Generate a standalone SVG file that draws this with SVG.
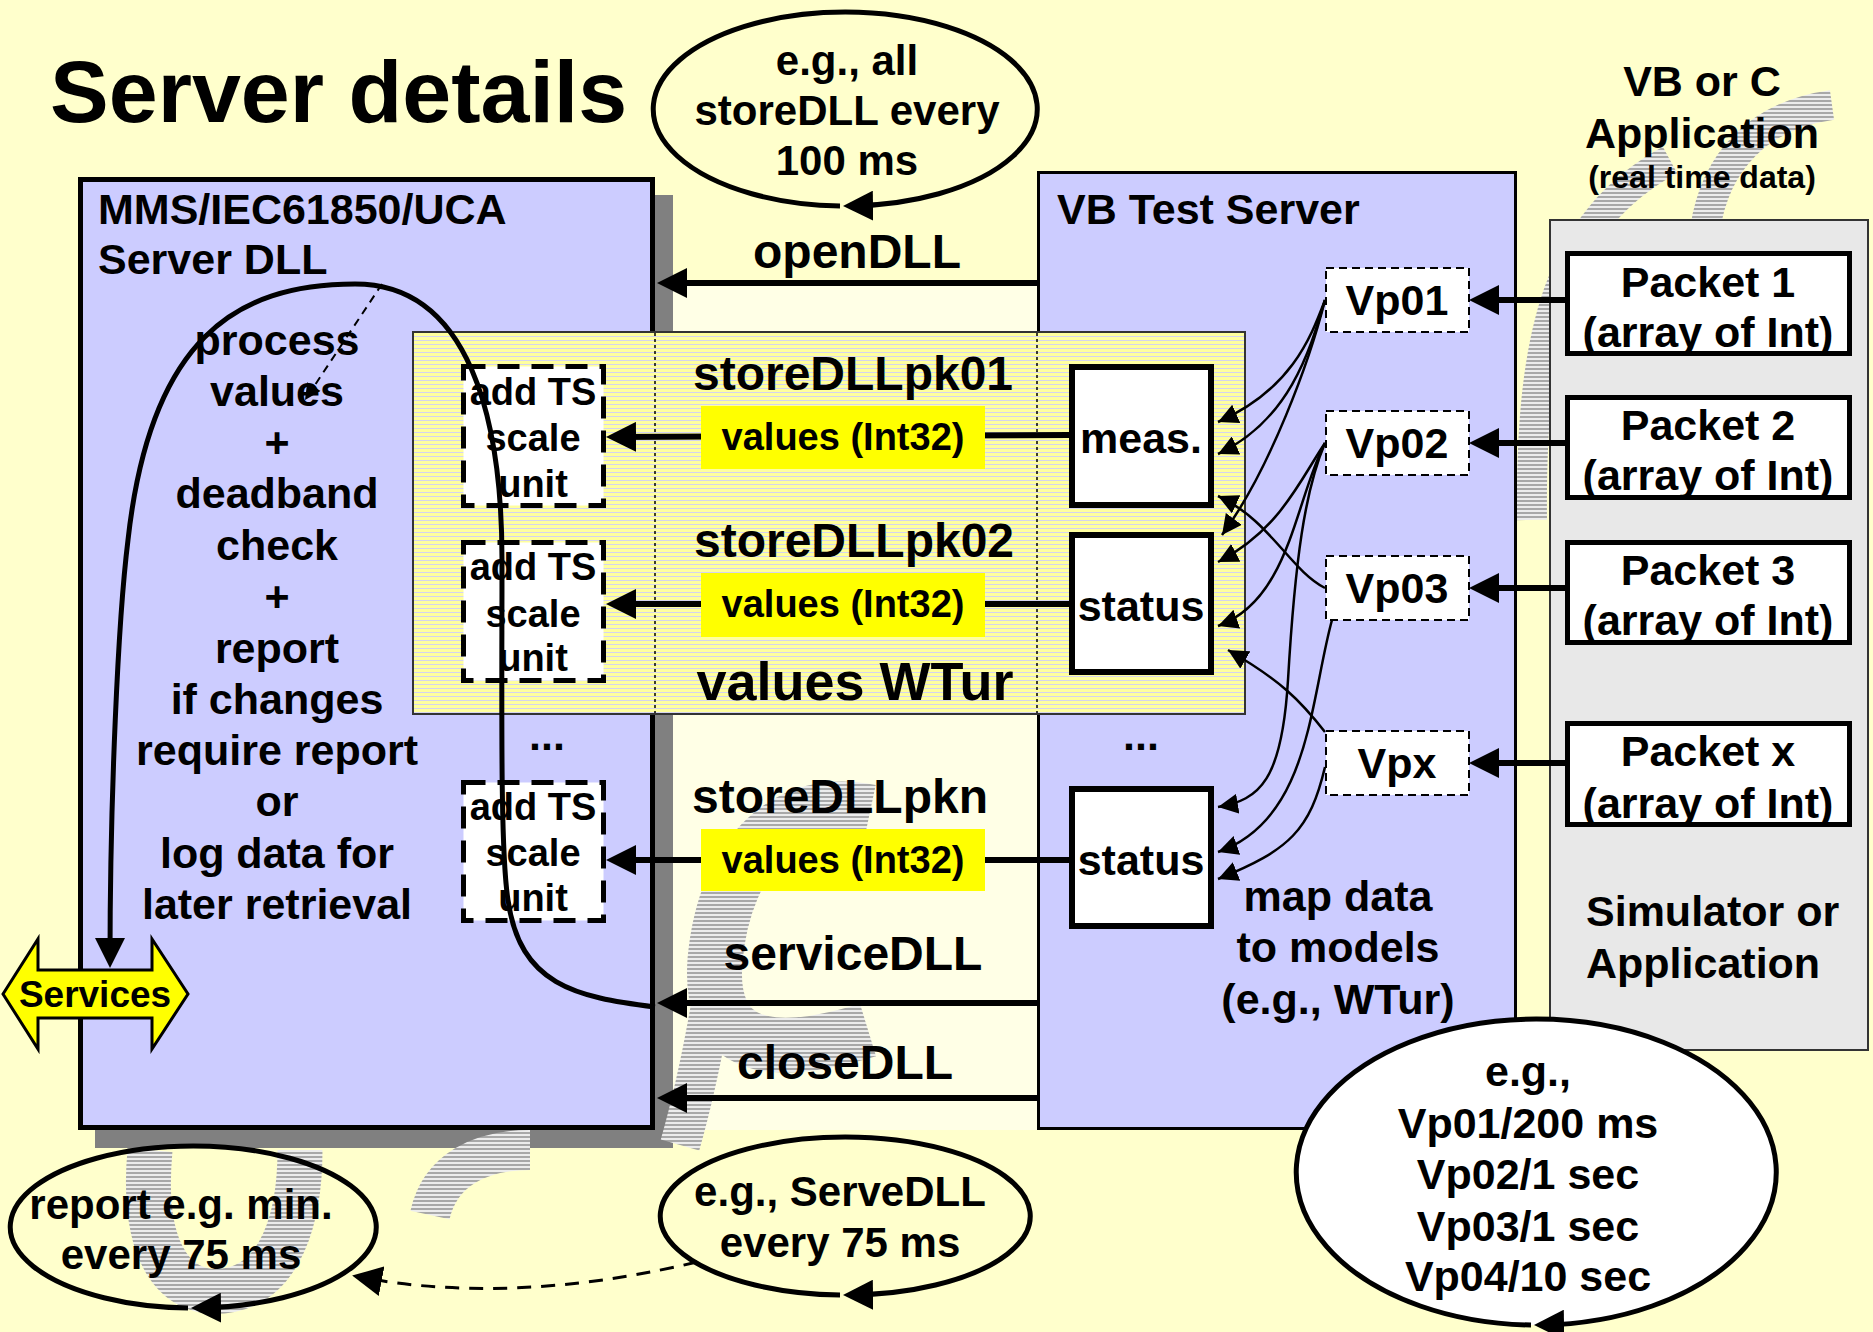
<svg xmlns="http://www.w3.org/2000/svg" width="1873" height="1332" viewBox="0 0 1873 1332">
<defs>
<style>
text { font-family: "Liberation Sans", Arial, sans-serif; font-weight: bold; fill: #000; }
.c { text-anchor: middle; }
.f32 { font-size: 32px; }
.f37 { font-size: 37px; }
.f38 { font-size: 38px; }
.f42 { font-size: 42px; }
.f43 { font-size: 43px; }
.f48 { font-size: 48px; }
.thick { stroke: #000; stroke-width: 6; fill: none; }
.thin { stroke: #000; stroke-width: 2.5; fill: none; }
.loop { stroke: #000; stroke-width: 5; fill: none; }
.ell { stroke: #000; stroke-width: 5; fill: none; }
.wm { fill: none; stroke: url(#gstripe); }
.tsbox { fill: #fff; stroke: #000; stroke-width: 5; stroke-dasharray: 22 12; }
.vpbox { fill: #fff; stroke: #000; stroke-width: 2; stroke-dasharray: 8 5; }
.wbox { fill: #fff; stroke: #000; stroke-width: 6; }
.pbox { fill: #fff; stroke: #000; stroke-width: 5; }
.ybox { fill: #FFFF00; }
</style>
<pattern id="ystripe" width="10" height="4" patternUnits="userSpaceOnUse">
<rect width="10" height="4" fill="#FFFF9E"/>
<rect y="0" width="10" height="1" fill="#D4D4F0"/>
</pattern>
<pattern id="gstripe" width="10" height="4" patternUnits="userSpaceOnUse">
<rect width="10" height="2" fill="#A8A8A8"/>
<rect y="2" width="10" height="2" fill="#ECECEC"/>
</pattern>
<marker id="big" viewBox="0 0 10 10" refX="7.5" refY="5" markerWidth="30" markerHeight="30" markerUnits="userSpaceOnUse" orient="auto">
<path d="M0,0 L10,5 L0,10 z" fill="#000"/>
</marker>
<marker id="small" viewBox="0 0 10 10" refX="10" refY="5" markerWidth="20" markerHeight="20" markerUnits="userSpaceOnUse" orient="auto">
<path d="M0,0 L10,5 L0,10 z" fill="#000"/>
</marker>
<marker id="dash" viewBox="0 0 10 10" refX="10" refY="5" markerWidth="18" markerHeight="16" markerUnits="userSpaceOnUse" orient="auto">
<path d="M0,0 L10,5 L0,10 z" fill="#000"/>
</marker>
</defs>

<rect width="1873" height="1332" fill="#FFFFCC"/>
<rect x="655" y="286" width="382" height="844" fill="#FFFFE6"/>

<g id="shadow">
<rect x="95" y="195" width="578" height="953" fill="#808080"/>
</g>

<g id="watermark">
<path class="wm" stroke-width="30" d="M1532 520 C1530 330 1560 220 1670 160"/>
<path class="wm" stroke-width="30" d="M1705 230 C1715 160 1760 115 1832 105"/>
<path class="wm" stroke-width="55" d="M870 812 C790 795 725 850 715 960 C708 1050 770 1060 868 1030"/>
<path class="wm" stroke-width="40" d="M712 1000 C700 1070 690 1110 680 1145"/>
<path class="wm" stroke-width="45" d="M150 1150 C140 1260 180 1300 230 1290 C280 1280 300 1220 300 1150"/>
<path class="wm" stroke-width="40" d="M430 1215 C440 1170 480 1150 530 1150"/>
</g>

<g id="title">
<text x="50" y="122" style="font-size:88px">Server details</text>
</g>

<g id="server-dll">
<rect x="80.5" y="179.5" width="572" height="948" fill="#CCCCFF" stroke="#000" stroke-width="5"/>
<text class="f43" x="98" y="224">MMS/IEC61850/UCA</text>
<text class="f43" x="98" y="274">Server DLL</text>
<g class="f43">
<text class="c" x="277" y="355">process</text>
<text class="c" x="277" y="406">values</text>
<text class="c" x="277" y="457">+</text>
<text class="c" x="277" y="508">deadband</text>
<text class="c" x="277" y="560">check</text>
<text class="c" x="277" y="611">+</text>
<text class="c" x="277" y="663">report</text>
<text class="c" x="277" y="714">if changes</text>
<text class="c" x="277" y="765">require report</text>
<text class="c" x="277" y="816">or</text>
<text class="c" x="277" y="868">log data for</text>
<text class="c" x="277" y="919">later retrieval</text>
</g>
<text class="c f43" x="547" y="750">...</text>
</g>

<g id="vb-test-server">
<rect x="1038.5" y="172.5" width="477" height="956" fill="#CCCCFF" stroke="#000" stroke-width="3"/>
<text class="f43" x="1057" y="224">VB Test Server</text>
<text class="c f43" x="1141" y="750">...</text>
<text class="c f43" x="1338" y="911">map data</text>
<text class="c f43" x="1338" y="962">to models</text>
<text class="c f43" x="1338" y="1014">(e.g., WTur)</text>
</g>

<g id="simulator">
<rect x="1550" y="220" width="318" height="830" fill="#E8E8E8" stroke="#333" stroke-width="2"/>
<text class="f43" x="1586" y="926">Simulator or</text>
<text class="f43" x="1586" y="978">Application</text>
</g>

<g id="app-label">
<text class="c f43" x="1702" y="96">VB or C</text>
<text class="c f43" x="1702" y="148">Application</text>
<text class="c f32" x="1702" y="188">(real time data)</text>
</g>

<g id="packet1"><rect class="pbox" x="1567.5" y="253.5" width="282" height="100"/>
<text class="c f43" x="1708" y="297">Packet 1</text><text class="c f43" x="1708" y="347">(array of Int)</text></g>
<g id="packet2"><rect class="pbox" x="1567.5" y="397.5" width="282" height="100"/>
<text class="c f43" x="1708" y="440">Packet 2</text><text class="c f43" x="1708" y="490">(array of Int)</text></g>
<g id="packet3"><rect class="pbox" x="1567.5" y="542.5" width="282" height="100"/>
<text class="c f43" x="1708" y="585">Packet 3</text><text class="c f43" x="1708" y="635">(array of Int)</text></g>
<g id="packetx"><rect class="pbox" x="1567.5" y="723.5" width="282" height="101"/>
<text class="c f43" x="1708" y="766">Packet x</text><text class="c f43" x="1708" y="818">(array of Int)</text></g>

<g id="values-wtur">
<rect x="413" y="332" width="832" height="382" fill="url(#ystripe)" stroke="#333" stroke-width="2"/>
<line x1="655" y1="333" x2="655" y2="713" stroke="#000" stroke-width="1.5" stroke-dasharray="3 3"/>
<line x1="1037" y1="333" x2="1037" y2="713" stroke="#000" stroke-width="1.5" stroke-dasharray="3 3"/>
<text class="c f48" x="853" y="390">storeDLLpk01</text>
<text class="c f48" x="854" y="557">storeDLLpk02</text>
<text class="c" x="855" y="700" style="font-size:54px">values WTur</text>
</g>

<text class="c f48" x="840" y="813">storeDLLpkn</text>
<text class="c f48" x="853" y="970">serviceDLL</text>
<text class="c f48" x="845" y="1079">closeDLL</text>
<text class="c f48" x="857" y="268">openDLL</text>

<g id="ts1"><rect class="tsbox" x="463.5" y="366.5" width="140" height="139"/>
<text class="c f38" x="533" y="405">add TS</text><text class="c f38" x="533" y="451">scale</text><text class="c f38" x="533" y="497">unit</text></g>
<g id="ts2"><rect class="tsbox" x="463.5" y="542.5" width="140" height="138"/>
<text class="c f38" x="533" y="580">add TS</text><text class="c f38" x="533" y="627">scale</text><text class="c f38" x="533" y="671">unit</text></g>
<g id="ts3"><rect class="tsbox" x="463.5" y="782.5" width="140" height="138"/>
<text class="c f38" x="533" y="820">add TS</text><text class="c f38" x="533" y="866">scale</text><text class="c f38" x="533" y="911">unit</text></g>

<g id="meas"><rect class="wbox" x="1072" y="367" width="139" height="138"/>
<text class="c f43" x="1141" y="453">meas.</text></g>
<g id="status1"><rect class="wbox" x="1072" y="535" width="139" height="137"/>
<text class="c f43" x="1141" y="621">status</text></g>
<g id="status2"><rect class="wbox" x="1072" y="789" width="139" height="137"/>
<text class="c f43" x="1141" y="875">status</text></g>

<g id="vp01"><rect class="vpbox" x="1326" y="268" width="143" height="64"/><text class="c f43" x="1397" y="315">Vp01</text></g>
<g id="vp02"><rect class="vpbox" x="1326" y="411" width="143" height="64"/><text class="c f43" x="1397" y="458">Vp02</text></g>
<g id="vp03"><rect class="vpbox" x="1326" y="556" width="143" height="64"/><text class="c f43" x="1397" y="603">Vp03</text></g>
<g id="vpx"><rect class="vpbox" x="1326" y="731" width="143" height="64"/><text class="c f43" x="1397" y="778">Vpx</text></g>

<g id="connectors">
<path class="thick" marker-end="url(#big)" d="M1037 283 L664.5 283"/>
<path class="thick" marker-end="url(#big)" d="M1037 1003 L664.5 1003"/>
<path class="thick" marker-end="url(#big)" d="M1037 1098 L664.5 1098"/>
<path class="thick" marker-end="url(#big)" d="M1069 435 L613.5 437"/>
<path class="thick" marker-end="url(#big)" d="M1069 604 L613.5 604"/>
<path class="thick" marker-end="url(#big)" d="M1069 860 L613.5 860"/>
<path class="thick" marker-end="url(#big)" d="M1565 300 L1476.5 300"/>
<path class="thick" marker-end="url(#big)" d="M1565 443 L1476.5 443"/>
<path class="thick" marker-end="url(#big)" d="M1565 588 L1476.5 588"/>
<path class="thick" marker-end="url(#big)" d="M1565 763 L1476.5 763"/>

<path class="thin" marker-end="url(#small)" d="M1325 300 C1310 340 1290 390 1218 422"/>
<path class="thin" marker-end="url(#small)" d="M1325 300 C1310 350 1290 420 1218 454"/>
<path class="thin" marker-end="url(#small)" d="M1325 300 C1310 360 1270 470 1222 535"/>
<path class="thin" marker-end="url(#small)" d="M1325 588 C1290 570 1270 520 1218 496"/>
<path class="thin" marker-end="url(#small)" d="M1325 443 C1300 480 1280 530 1218 562"/>
<path class="thin" marker-end="url(#small)" d="M1325 443 C1295 500 1290 600 1218 626"/>
<path class="thin" marker-end="url(#small)" d="M1325 443 C1305 490 1295 560 1288 680 C1282 780 1260 800 1218 807"/>
<path class="thin" marker-end="url(#small)" d="M1332 620 C1310 700 1310 820 1218 852"/>
<path class="thin" marker-end="url(#small)" d="M1325 732 C1300 700 1280 680 1228 650"/>
<path class="thin" marker-end="url(#small)" d="M1325 767 C1310 830 1290 850 1218 879"/>

<path class="loop" marker-end="url(#big)" d="M655 1007 C575 997 520 985 508 900 C500 850 502 700 502 560 C502 420 470 284 355 284 C235 284 150 340 128 540 C118 620 110 800 110 960.5"/>
<path stroke="#000" stroke-width="2" stroke-dasharray="8 6" fill="none" marker-end="url(#dash)" d="M382 284 L305 400"/>
<path stroke="#000" stroke-width="3" stroke-dasharray="14 10" fill="none" marker-end="url(#big)" d="M697 1262 C600 1285 480 1300 359.5 1277"/>
</g>

<g id="values1"><rect class="ybox" x="701" y="406" width="284" height="63"/><text class="c f38" x="843" y="450">values (Int32)</text></g>
<g id="values2"><rect class="ybox" x="701" y="573" width="284" height="64"/><text class="c f38" x="843" y="617">values (Int32)</text></g>
<g id="values3"><rect class="ybox" x="701" y="829" width="284" height="62"/><text class="c f38" x="843" y="873">values (Int32)</text></g>

<g id="services">
<polygon points="3,994 38,939 38,970 152,970 152,939 188,994 152,1049 152,1018 38,1018 38,1049" fill="#FFFF00" stroke="#000" stroke-width="3"/>
<text class="c f37" x="95" y="1007">Services</text>
</g>

<g id="ellipse-store">
<path class="ell" marker-end="url(#big)" d="M840 206 A192 97 0 1 1 850.5 206"/>
<text class="c f42" x="847" y="75">e.g., all</text>
<text class="c f42" x="847" y="125">storeDLL every</text>
<text class="c f42" x="847" y="175">100 ms</text>
</g>

<g id="ellipse-report">
<path class="ell" marker-end="url(#big)" d="M188 1308 A183 81 0 1 1 198.5 1308"/>
<text class="c f42" x="181" y="1219">report e.g. min.</text>
<text class="c f42" x="181" y="1269">every 75 ms</text>
</g>

<g id="ellipse-serve">
<path class="ell" marker-end="url(#big)" d="M840 1295 A185 79 0 1 1 850.5 1295"/>
<text class="c f42" x="840" y="1206">e.g., ServeDLL</text>
<text class="c f42" x="840" y="1257">every 75 ms</text>
</g>

<g id="ellipse-vp">
<path class="ell" style="fill:#fff" marker-end="url(#big)" d="M1531 1325 A240 153 0 1 1 1541.5 1325"/>
<text class="c f43" x="1528" y="1086">e.g.,</text>
<text class="c f43" x="1528" y="1138">Vp01/200 ms</text>
<text class="c f43" x="1528" y="1189">Vp02/1 sec</text>
<text class="c f43" x="1528" y="1241">Vp03/1 sec</text>
<text class="c f43" x="1528" y="1291">Vp04/10 sec</text>
</g>
</svg>
